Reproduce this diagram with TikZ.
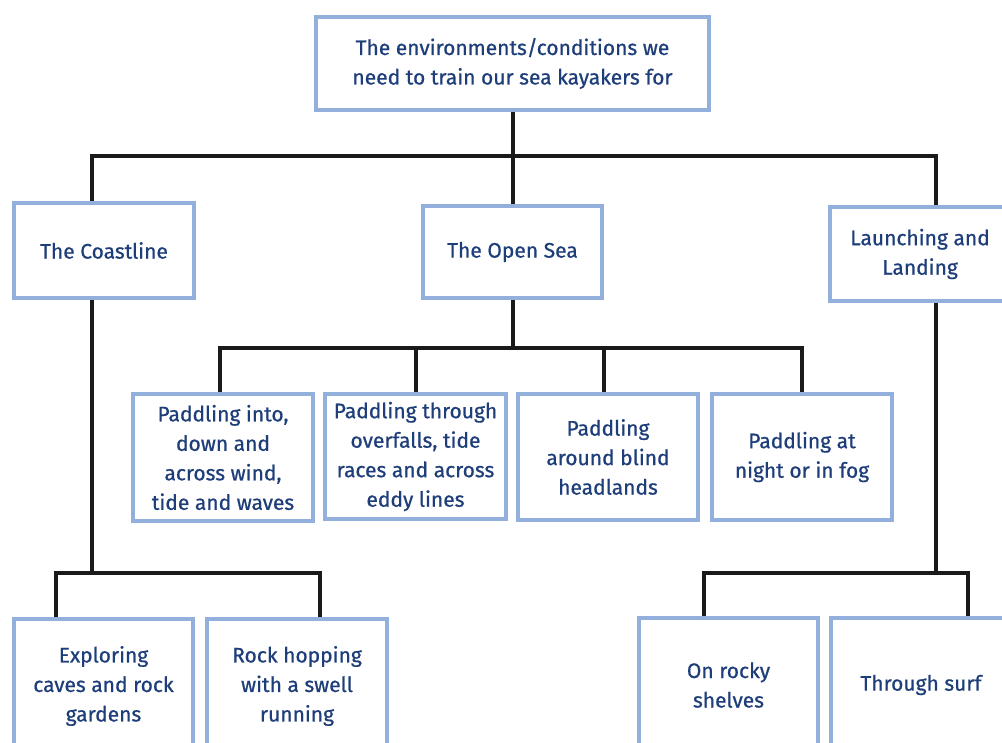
\documentclass[tikz,border=0pt]{standalone}
\usepackage{fontspec}
\setmainfont{Fira Sans}
\newfontfamily\boxfont{Fira Sans}[FakeBold=0.7]
\definecolor{boxblue}{HTML}{93B0DD}
\definecolor{textblue}{HTML}{1E3E7A}
\definecolor{linedark}{HTML}{1A1A1A}
\tikzset{
  box/.style={draw=boxblue, line width=4pt, fill=white, text=textblue,
    align=center, inner sep=0pt, font=\boxfont\fontsize{21}{29.5}\selectfont},
  link/.style={draw=linedark, line width=4pt}
}
\begin{document}
\begin{tikzpicture}[x=1pt,y=-1pt]
\useasboundingbox (0,0) rectangle (1002,743);
\clip (0,0) rectangle (1002,743);
\fill[white] (0,0) rectangle (1002,743);

% root
\node[box, minimum width=393pt, minimum height=93pt] (root) at (512.5,63.5)
  {The environments/conditions we\\need to train our sea kayakers for};

% first level
\node[box, minimum width=180pt, minimum height=95pt] (coast) at (104,250.5) {The Coastline};
\node[box, minimum width=179pt, minimum height=92pt] (open) at (512.5,252) {The Open Sea};
\node[box, minimum width=180pt, minimum height=94pt] (launch) at (920,254) {Launching and\\Landing};

% open sea children
\node[box, minimum width=180pt, minimum height=127pt] (o1) at (223,457.5)
  {Paddling into,\\down and\\across wind,\\tide and waves};
\node[box, minimum width=181pt, minimum height=125pt] (o2) at (415.5,456.5)
  {Paddling through\\overfalls, tide\\races and across\\eddy lines};
\node[box, minimum width=180pt, minimum height=126pt] (o3) at (608,457)
  {Paddling\\around blind\\headlands};
\node[box, minimum width=180pt, minimum height=126pt] (o4) at (802,457)
  {Paddling at\\night or in fog};

% coastline children
\node[box, minimum width=179pt, minimum height=134pt] (c1) at (103.5,686)
  {Exploring\\caves and rock\\gardens};
\node[box, minimum width=180pt, minimum height=134pt] (c2) at (297,686)
  {Rock hopping\\with a swell\\running};

% launching children
\node[box, minimum width=179pt, minimum height=134pt] (l1) at (728.5,685)
  {On rocky\\shelves};
\node[box, minimum width=180pt, minimum height=134pt] (l2) at (921,685)
  {Through surf};

% connectors: root to first level
\draw[link] (root.south) -- ++(0,44) coordinate (rootbus);
\draw[link] ([xshift=-12pt]coast.north) |- (rootbus) -| ([xshift=16pt]launch.north);
\draw[link] (rootbus) -- (open.north);

% open sea to its children
\draw[link] (open.south) -- ++(0,48) coordinate (openbus);
\draw[link] ([xshift=-3pt]o1.north) |- (openbus) -| (o4.north);
\draw[link] (o2.north) -- (o2.north |- openbus);
\draw[link] ([xshift=-4pt]o3.north) -- ([xshift=-4pt]o3.north |- openbus);

% coastline to its children
\draw[link] ([xshift=-12pt]coast.south) -- ++(0,273) coordinate (coastbus);
\draw[link] ([xshift=-47.5pt]c1.north) |- (coastbus) -| ([xshift=23pt]c2.north);

% launching to its children
\draw[link] ([xshift=16pt]launch.south) -- ++(0,270) coordinate (launchbus);
\draw[link] ([xshift=-24.5pt]l1.north) |- (launchbus) -| ([xshift=47pt]l2.north);
\end{tikzpicture}
\end{document}
